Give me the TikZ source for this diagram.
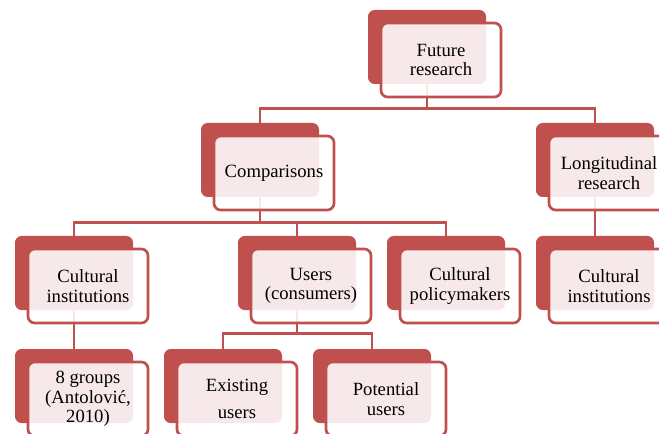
\documentclass[tikz,border=0pt]{standalone}
\usepackage{fontspec}
\setmainfont{Liberation Serif}
\usepackage{xcolor}
\usepackage{tikz}
\definecolor{boxred}{HTML}{C0504D}

\begin{document}
\begin{tikzpicture}[x=0.75pt,y=-0.75pt,
		back/.style={fill=boxred,rounded corners=5pt,inner sep=0pt,minimum width=88.5pt,minimum height=55.5pt},
		front/.style={draw=boxred,line width=2pt,fill=white,fill opacity=0.88,text opacity=1,rounded corners=5pt,inner sep=0pt,minimum width=90pt,minimum height=55.5pt,align=center,font=\fontsize{14}{14.5}\selectfont},
		link/.style={draw=boxred,line width=2.2pt}]
			\useasboundingbox (0,0) rectangle (659,434);
			\node[back] (futB) at (427,47) {};
			\node[back] (cmpB) at (260,160) {};
			\node[back] (lonB) at (595,160) {};
			\node[back] (ci1B) at (74,273) {};
			\node[back] (usrB) at (297,273) {};
			\node[back] (polB) at (446,273) {};
			\node[back] (ci2B) at (595,273) {};
			\node[back] (grpB) at (74,386) {};
			\node[back] (extB) at (223,386) {};
			\node[back] (potB) at (372,386) {};
			\draw[link] (futB.south) -- ++(0,24) -| (cmpB.north);
			\draw[link] (futB.south) -- ++(0,24) -| (lonB.north);
			\draw[link] (cmpB.south) -- ++(0,25) -| (ci1B.north);
			\draw[link] (cmpB.south) -- ++(0,25) -| (usrB.north);
			\draw[link] (cmpB.south) -- ++(0,25) -| (polB.north);
			\draw[link] (lonB.south) -- (ci2B.north);
			\draw[link] (ci1B.south) -- (grpB.north);
			\draw[link] (usrB.south) -- ++(0,23) -| (extB.north);
			\draw[link] (usrB.south) -- ++(0,23) -| (potB.north);
			\node[front] (fut) at ([shift={(14,13)}]futB.center) {Future\\research};
			\node[front] (cmp) at ([shift={(14,13)}]cmpB.center) {Comparisons};
			\node[front] (lon) at ([shift={(14,13)}]lonB.center) {Longitudinal\\research};
			\node[front] (ci1) at ([shift={(14,13)}]ci1B.center) {Cultural\\institutions};
			\node[front] (usr) at ([shift={(14,13)}]usrB.center) {Users\\(consumers)};
			\node[front] (pol) at ([shift={(14,13)}]polB.center) {Cultural\\policymakers};
			\node[front] (ci2) at ([shift={(14,13)}]ci2B.center) {Cultural\\institutions};
			\node[front] (grp) at ([shift={(14,13)}]grpB.center) {8 groups\\(Antolović,\\2010)};
			\node[front] (ext) at ([shift={(14,13)}]extB.center) {Existing\\[5.5pt]users};
			\node[front] (pot) at ([shift={(14,13)}]potB.center) {Potential\\users};
		\end{tikzpicture}
\end{document}
